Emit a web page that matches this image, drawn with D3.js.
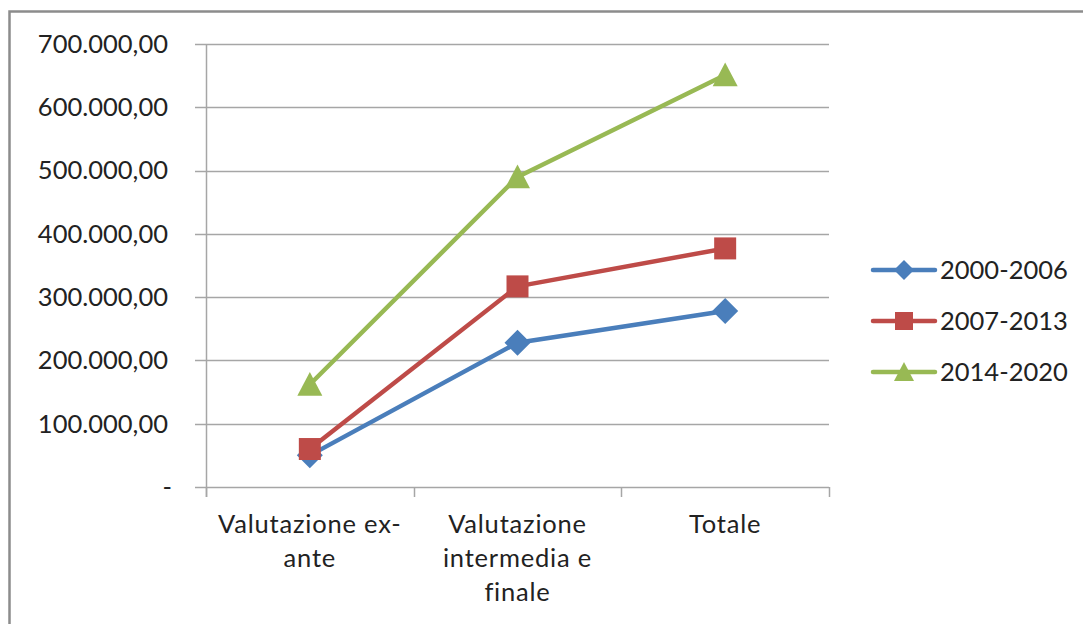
<!DOCTYPE html>
<html>
<head>
<meta charset="utf-8">
<script src="https://cdn.jsdelivr.net/npm/d3@7"></script>
<style>
  body { margin: 0; background: #fff; }
  svg { display: block; font-family: Lato, "Open Sans", sans-serif; }
</style>
</head>
<body>
<div id="root"></div>
<script>
// Chart data
const categories = [["Valutazione ex-", "ante"], ["Valutazione", "intermedia e", "finale"], ["Totale"]]
const seriesNames = ['2000-2006', '2007-2013', '2014-2020']
const values2000 = [50000, 228000, 278000]
const values2007 = [60000, 317000, 377000]
const values2014 = [162000, 490000, 651000]
const yTicks = [0, 100000, 200000, 300000, 400000, 500000, 600000, 700000]

const colors = ['#4a7ebb', '#be4b48', '#98b954']
const series = [values2000, values2007, values2014]

const W = 1083, H = 624
const plot = { left: 206, right: 829, top: 44, bottom: 487 }
const fontSize = 25.5

const svg = d3.select('#root').append('svg')
  .attr('width', W)
  .attr('height', H)

// outer chart border (runs off the right / bottom edge)
svg.append('rect')
  .attr('x', 9.5).attr('y', 11.5)
  .attr('width', 1200).attr('height', 800)
  .attr('fill', '#fff')
  .attr('stroke', '#8c8c8c')
  .attr('stroke-width', 2.5)

const x = d3.scaleBand()
  .domain(d3.range(categories.length))
  .range([plot.left, plot.right])

const y = d3.scaleLinear()
  .domain([0, 700000])
  .range([plot.bottom, plot.top])

const fmt = v => v === 0 ? '-' : d3.format(',.2f')(v).replace(/,/g, '#').replace('.', ',').replace(/#/g, '.')

// horizontal gridlines + y ticks
svg.append('g')
  .selectAll('line')
  .data(yTicks)
  .join('line')
  .attr('x1', plot.left - 11)
  .attr('x2', plot.right)
  .attr('y1', d => Math.round(y(d)) + 0.5)
  .attr('y2', d => Math.round(y(d)) + 0.5)
  .attr('stroke', '#a6a6a6')
  .attr('stroke-width', 1.5)

svg.append('g')
  .selectAll('text')
  .data(yTicks)
  .join('text')
  .attr('x', d => d === 0 ? 172 : 168)
  .attr('y', d => y(d))
  .attr('dy', '0.35em')
  .attr('text-anchor', 'end')
  .attr('font-size', fontSize)
  .attr('fill', '#222')
  .text(fmt)

// vertical axis
svg.append('line')
  .attr('x1', plot.left + 0.5).attr('x2', plot.left + 0.5)
  .attr('y1', plot.top).attr('y2', plot.bottom + 10)
  .attr('stroke', '#a6a6a6').attr('stroke-width', 1.5)

// category tick marks
const catTicks = d3.range(categories.length + 1).map(i => plot.left + i * x.step())
svg.append('g')
  .selectAll('line')
  .data(catTicks)
  .join('line')
  .attr('x1', d => Math.round(d) + 0.5)
  .attr('x2', d => Math.round(d) + 0.5)
  .attr('y1', plot.bottom)
  .attr('y2', plot.bottom + 10)
  .attr('stroke', '#a6a6a6')
  .attr('stroke-width', 1.5)

// category labels
svg.append('g')
  .selectAll('text')
  .data(categories)
  .join('text')
  .attr('x', (d, i) => x(i) + x.bandwidth() / 2)
  .attr('y', 533)
  .attr('text-anchor', 'middle')
  .attr('font-size', fontSize)
  .attr('letter-spacing', 0.8)
  .attr('fill', '#222')
  .each(function (d) {
    d3.select(this).selectAll('tspan')
      .data(d)
      .join('tspan')
      .attr('x', d3.select(this).attr('x'))
      .attr('dy', (t, j) => j === 0 ? 0 : 34)
      .text(t => t)
  })

// marker shapes
const diamond = {
  draw(ctx, size) {
    const r = Math.sqrt(size) / 2
    ctx.moveTo(0, -r); ctx.lineTo(r, 0); ctx.lineTo(0, r); ctx.lineTo(-r, 0); ctx.closePath()
  }
}
const square = {
  draw(ctx, size) {
    const r = Math.sqrt(size) / 2
    ctx.rect(-r, -r, 2 * r, 2 * r)
  }
}
const triangle = {
  draw(ctx, size) {
    const r = Math.sqrt(size) / 2
    ctx.moveTo(0, -r); ctx.lineTo(r, r * 0.9); ctx.lineTo(-r, r * 0.9); ctx.closePath()
  }
}
const shapes = [diamond, square, triangle]
const chartSizes = [26 * 26, 22 * 22, 25 * 25]
const legendSizes = [20 * 20, 18 * 18, 20 * 20]

const line = d3.line()
  .x((d, i) => x(i) + x.bandwidth() / 2)
  .y(d => y(d))

series.forEach((vals, s) => {
  const g = svg.append('g')
  g.append('path')
    .datum(vals)
    .attr('fill', 'none')
    .attr('stroke', colors[s])
    .attr('stroke-width', 4.5)
    .attr('stroke-linejoin', 'round')
    .attr('stroke-linecap', 'round')
    .attr('d', line)
  g.selectAll('path.marker')
    .data(vals)
    .join('path')
    .attr('class', 'marker')
    .attr('transform', (d, i) => `translate(${x(i) + x.bandwidth() / 2},${y(d)})`)
    .attr('fill', colors[s])
    .attr('d', d3.symbol(shapes[s], chartSizes[s]))
})

// legend
const legend = svg.append('g')
  .selectAll('g')
  .data(seriesNames)
  .join('g')
  .attr('transform', (d, i) => `translate(873,${270 + i * 51})`)

legend.append('line')
  .attr('x1', 0).attr('x2', 62)
  .attr('stroke', (d, i) => colors[i])
  .attr('stroke-width', 4.5)
  .attr('stroke-linecap', 'round')
legend.append('path')
  .attr('transform', 'translate(31,0)')
  .attr('fill', (d, i) => colors[i])
  .attr('d', (d, i) => d3.symbol(shapes[i], legendSizes[i])())
legend.append('text')
  .attr('x', 67)
  .attr('dy', '0.35em')
  .attr('font-size', fontSize)
  .attr('fill', '#222')
  .text(d => d)
</script>
</body>
</html>
